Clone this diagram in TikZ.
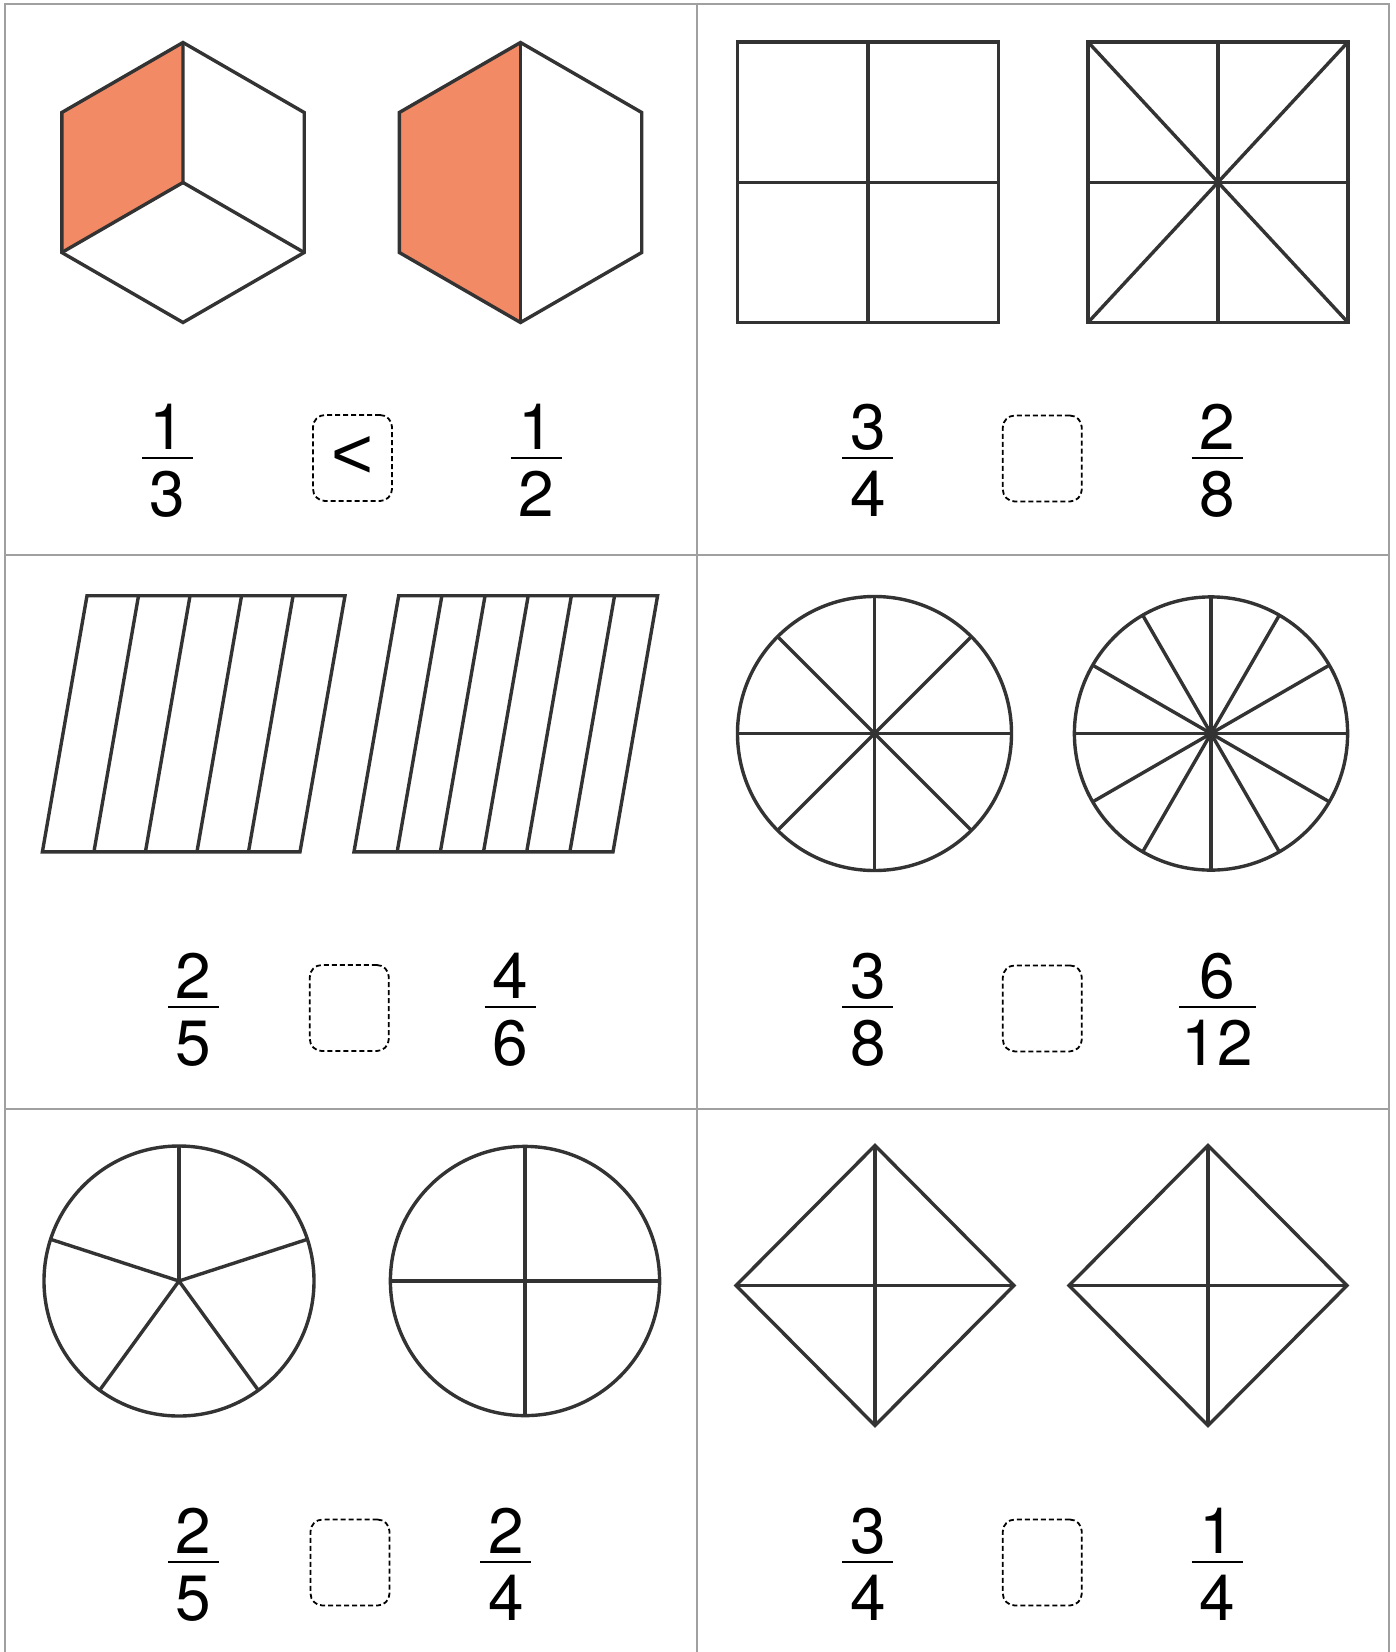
\documentclass[tikz,border=0pt]{standalone}
\usepackage{fontspec}
\setmainfont{TeX Gyre Heros}
\newfontfamily\ltfont{Liberation Sans}
\definecolor{hexorange}{RGB}{242,138,102}
\definecolor{ink}{RGB}{51,51,51}
\definecolor{gridgray}{RGB}{160,160,160}
\tikzset{
  shapeline/.style={draw=ink,line width=3.4pt,line join=miter},
  gridline/.style={draw=gridgray,line width=2pt},
  digit/.style={inner sep=0pt,font=\fontsize{64}{70}\selectfont},
  fracbar/.style={draw=black,line width=2pt},
  ansbox/.style={draw=black,line width=1.8pt,dash pattern=on 5pt off 3pt,rounded corners=12pt,minimum width=79pt,minimum height=86pt,inner sep=0pt,font=\ltfont\fontsize{72}{78}\selectfont}
}
% #1 name, #2 x, #3 y of bar, #4 numerator, #5 denominator, #6 half bar width
\newcommand{\fracat}[6]{%
  \node[digit,anchor=base] (#1n) at (#2,#3-9) {#4};
  \node[digit,anchor=base] (#1d) at (#2,#3+58) {#5};
  \coordinate (#1l) at (#2-#6,#3);
  \coordinate (#1r) at (#2+#6,#3);
  \draw[fracbar] (#1l) -- (#1r);
}
\begin{document}
\begin{tikzpicture}[x=1pt,y=-1pt]
\useasboundingbox (0,0) rectangle (1396,1652);
\fill[white] (0,0) rectangle (1396,1652);
% grid
\draw[gridline] (4.7,1652) -- (4.7,3.5) -- (1389,3.5) -- (1389,1652);
\draw[gridline] (4.7,555.3) -- (1389,555.3);
\draw[gridline] (4.7,1108.5) -- (1389,1108.5);
\draw[gridline] (697.3,3.5) -- (697.3,1652);

% ---------- panel 1: hexagons ----------
\begin{scope}[shift={(183,182.5)}]
  \fill[hexorange] (0,-140) -- (-121.2,-70) -- (-121.2,70) -- (0,0) -- cycle;
  \draw[shapeline] (0,-140) -- (-121.2,-70) -- (-121.2,70) -- (0,140) -- (121.2,70) -- (121.2,-70) -- cycle;
  \draw[shapeline] (0,-140) -- (0,0) -- (-121.2,70);
  \draw[shapeline] (0,0) -- (121.2,70);
\end{scope}
\begin{scope}[shift={(520.5,182.5)}]
  \fill[hexorange] (0,-140) -- (-121.2,-70) -- (-121.2,70) -- (0,140) -- cycle;
  \draw[shapeline] (0,-140) -- (-121.2,-70) -- (-121.2,70) -- (0,140) -- (121.2,70) -- (121.2,-70) -- cycle;
  \draw[shapeline] (0,-140) -- (0,140);
\end{scope}
\fracat{fa}{167.5}{458}{1}{3}{25.5}
\node[ansbox] (ba) at (352.5,458) {<};
\fracat{fb}{536}{458}{1}{2}{25.5}

% ---------- panel 2: rectangles ----------
\draw[shapeline] (737.5,42) rectangle (998.5,322.5);
\draw[shapeline] (868,42) -- (868,322.5);
\draw[shapeline] (737.5,182.3) -- (998.5,182.3);
\draw[shapeline] (1088,42) rectangle (1348,322.5);
\draw[shapeline] (1218,42) -- (1218,322.5);
\draw[shapeline] (1088,182.3) -- (1348,182.3);
\draw[shapeline] (1088,42) -- (1348,322.5);
\draw[shapeline] (1348,42) -- (1088,322.5);
\fracat{fc}{867.8}{458}{3}{4}{25.5}
\node[ansbox] (bb) at (1042.3,458.5) {};
\fracat{fd}{1217}{458}{2}{8}{25.5}

% ---------- panel 3: parallelograms ----------
\draw[shapeline] (42.4,851.8) -- (300,851.8) -- (345,595.7) -- (87,595.7) -- cycle;
\foreach \i in {1,...,4}
  \draw[shapeline] (42.4+\i*51.52,851.8) -- (87+\i*51.52,595.7);
\draw[shapeline] (354,851.8) -- (613,851.8) -- (657.6,595.7) -- (398.7,595.7) -- cycle;
\foreach \i in {1,...,5}
  \draw[shapeline] (354+\i*43.17,851.8) -- (398.7+\i*43.17,595.7);
\fracat{fe}{193.3}{1007}{2}{5}{25.5}
\node[ansbox] (bc) at (349.3,1008) {};
\fracat{ff}{510}{1007}{4}{6}{25.5}

% ---------- panel 4: circles ----------
\draw[shapeline] (874.5,733.5) circle[radius=137];
\foreach \a in {0,45,...,315}
  \draw[shapeline] (874.5,733.5) -- ++(\a:137);
\draw[shapeline] (1211,733.5) circle[radius=136.6];
\foreach \a in {0,30,...,330}
  \draw[shapeline] (1211,733.5) -- ++(\a:136.6);
\fracat{fg}{867.8}{1007}{3}{8}{25.5}
\node[ansbox] (bd) at (1042.3,1008.4) {};
\fracat{fh}{1217.5}{1007}{6}{12}{38.5}

% ---------- panel 5: circles ----------
\draw[shapeline] (179,1281) circle[radius=135];
\foreach \a in {-90,-18,54,126,198}
  \draw[shapeline] (179,1281) -- ++(\a:135);
\draw[shapeline] (525,1281) circle[radius=134.6];
\foreach \a in {0,90,180,270}
  \draw[shapeline] (525,1281) -- ++(\a:134.6);
\fracat{fi}{193.3}{1562}{2}{5}{25.5}
\node[ansbox] (be) at (350,1562.5) {};
\fracat{fj}{505.8}{1562}{2}{4}{25.5}

% ---------- panel 6: diamonds ----------
\begin{scope}[shift={(875,1285.5)}]
  \draw[shapeline] (0,-140) -- (139,0) -- (0,140) -- (-139,0) -- cycle;
  \draw[shapeline] (0,-140) -- (0,140);
  \draw[shapeline] (-139,0) -- (139,0);
\end{scope}
\begin{scope}[shift={(1208,1285.5)}]
  \draw[shapeline] (0,-140) -- (139,0) -- (0,140) -- (-139,0) -- cycle;
  \draw[shapeline] (0,-140) -- (0,140);
  \draw[shapeline] (-139,0) -- (139,0);
\end{scope}
\fracat{fk}{867.8}{1562}{3}{4}{25.5}
\node[ansbox] (bf) at (1042.3,1562.5) {};
\fracat{fl}{1217}{1562}{1}{4}{25.5}
\end{tikzpicture}
\end{document}
